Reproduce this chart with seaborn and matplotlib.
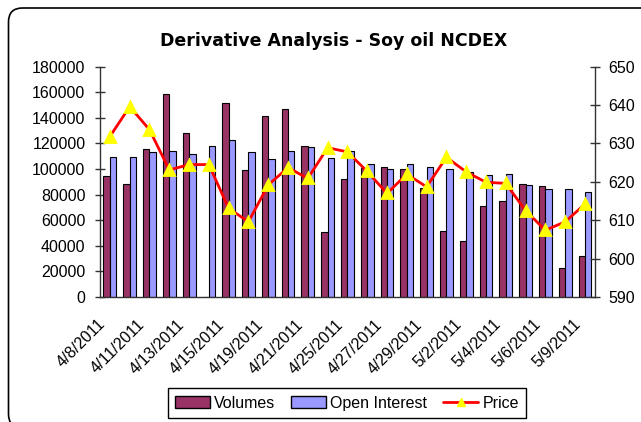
import pandas as pd
import numpy as np
import seaborn as sns
from matplotlib import pyplot as plt
from matplotlib.patches import Patch, FancyBboxPatch
from matplotlib.lines import Line2D
from matplotlib.transforms import IdentityTransform, ScaledTranslation

sns.set_style('white')
plt.rcParams['font.family'] = ['Liberation Sans', 'DejaVu Sans']
plt.rcParams['text.color'] = 'black'

# data
dates = ['4/8/2011', '4/9/2011', '4/11/2011', '4/12/2011', '4/13/2011', '4/14/2011',
         '4/15/2011', '4/18/2011', '4/19/2011', '4/20/2011', '4/21/2011', '4/23/2011',
         '4/25/2011', '4/26/2011', '4/27/2011', '4/28/2011', '4/29/2011', '4/30/2011',
         '5/2/2011', '5/3/2011', '5/4/2011', '5/5/2011', '5/6/2011', '5/7/2011', '5/9/2011']
volumes = [94500, 88000, 115400, 158300, 128400, 0, 151600, 99200, 141100, 146900,
           118000, 50500, 91900, 101000, 101800, 100000, 85400, 51600, 44000, 71400,
           75000, 88000, 87000, 22400, 31800]
open_interest = [109600, 109600, 113300, 114300, 111500, 118000, 122700, 113300, 107800,
                 114300, 116900, 108600, 114300, 103900, 100000, 103600, 101800, 100300,
                 97900, 95300, 96400, 87200, 84400, 84400, 82300]
price = [631.8, 639.6, 633.6, 623.1, 624.5, 624.5, 613.1, 609.6, 619.2, 623.7, 620.9,
         628.9, 627.8, 622.7, 617.0, 622.0, 618.7, 626.4, 622.6, 619.9, 619.6, 612.5,
         607.4, 609.6, 614.2]

vol_color = '#993366'
oi_color = '#9999FF'
axis_color = '#333333'

frame = pd.DataFrame({
    'Date': dates * 2,
    'Value': volumes + open_interest,
    'Series': ['Volumes'] * len(dates) + ['Open Interest'] * len(dates),
})

fig = plt.figure(figsize=(6.41, 4.22), dpi=100)
ax = fig.add_axes([0.156, 0.2962, 0.772, 0.5457])

sns.barplot(data=frame, x='Date', y='Value', hue='Series', order=dates,
            palette=[vol_color, oi_color], saturation=1, width=0.65,
            errorbar=None, edgecolor='black', linewidth=0.8, legend=False, ax=ax)

ax2 = ax.twinx()
sns.pointplot(x=dates, y=price, order=dates, color='red', markers='^',
              linestyles='-', errorbar=None, ax=ax2)
for ln in ax2.lines:
    ln.set_linewidth(2)
    ln.set_markersize(7.5)
    ln.set_markerfacecolor('#FFFF00')
    ln.set_markeredgecolor('#FFFF00')

ax.set_xlim(-0.5, len(dates) - 0.5)
ax.set_ylim(0, 180000)
ax.set_yticks(range(0, 180001, 20000))
ax2.set_ylim(590, 650)
ax2.set_yticks(range(590, 651, 10))
ax.set_xlabel('')
ax.set_ylabel('')
ax2.set_xlabel('')
ax2.set_ylabel('')

ax.set_xticks(range(0, len(dates), 2))
ax.set_xticklabels(dates[::2], rotation=45, ha='right', va='center',
                   rotation_mode='anchor', fontsize=11.5)
ax.set_xticks(np.arange(-0.5, len(dates), 1), minor=True)
ax.tick_params(axis='x', which='major', length=0, pad=18, labelcolor='black')
ax.tick_params(axis='x', which='minor', length=5, width=1, color=axis_color, direction='out')
shift = ScaledTranslation(-5 / 72, 0, fig.dpi_scale_trans)
for lbl in ax.get_xticklabels():
    lbl.set_transform(lbl.get_transform() + shift)

ax.tick_params(axis='y', direction='inout', length=7, width=1, color=axis_color,
               labelsize=11.5, pad=7, labelcolor='black')
ax2.tick_params(axis='y', direction='inout', length=7, width=1, color=axis_color,
                labelsize=11.5, pad=6, labelcolor='black')

for s in ['top', 'right']:
    ax.spines[s].set_visible(False)
for s in ['top', 'left', 'bottom']:
    ax2.spines[s].set_visible(False)
for sp in [ax.spines['left'], ax.spines['bottom'], ax2.spines['right']]:
    sp.set_color(axis_color)
    sp.set_linewidth(1)

fig.text(0.52, 0.903, 'Derivative Analysis - Soy oil NCDEX', ha='center', va='center',
         fontsize=12.5, fontweight='bold', family='DejaVu Sans', color='black')

handles = [Patch(facecolor=vol_color, edgecolor='black', linewidth=1),
           Patch(facecolor=oi_color, edgecolor='black', linewidth=1),
           Line2D([], [], color='red', lw=2, marker='^', markersize=6,
                  markerfacecolor='#FFFF00', markeredgecolor='#FFFF00')]
leg = fig.legend(handles, ['Volumes', 'Open Interest', 'Price'], loc='center',
                 bbox_to_anchor=(0.541, 0.045), ncol=3, fontsize=11.5, frameon=True,
                 fancybox=False, framealpha=1, edgecolor='black', handlelength=2.2,
                 handleheight=0.8, handletextpad=0.25, columnspacing=1.0, borderpad=0.45)
leg.get_frame().set_linewidth(1)
for t in leg.get_texts():
    t.set_color('black')

border = FancyBboxPatch((8.5, -6), 700, 420, boxstyle='round,pad=0,rounding_size=14',
                        transform=IdentityTransform(), facecolor='none',
                        edgecolor='black', linewidth=1.2)
fig.patches.append(border)

fig.savefig('out.png', dpi=100)
